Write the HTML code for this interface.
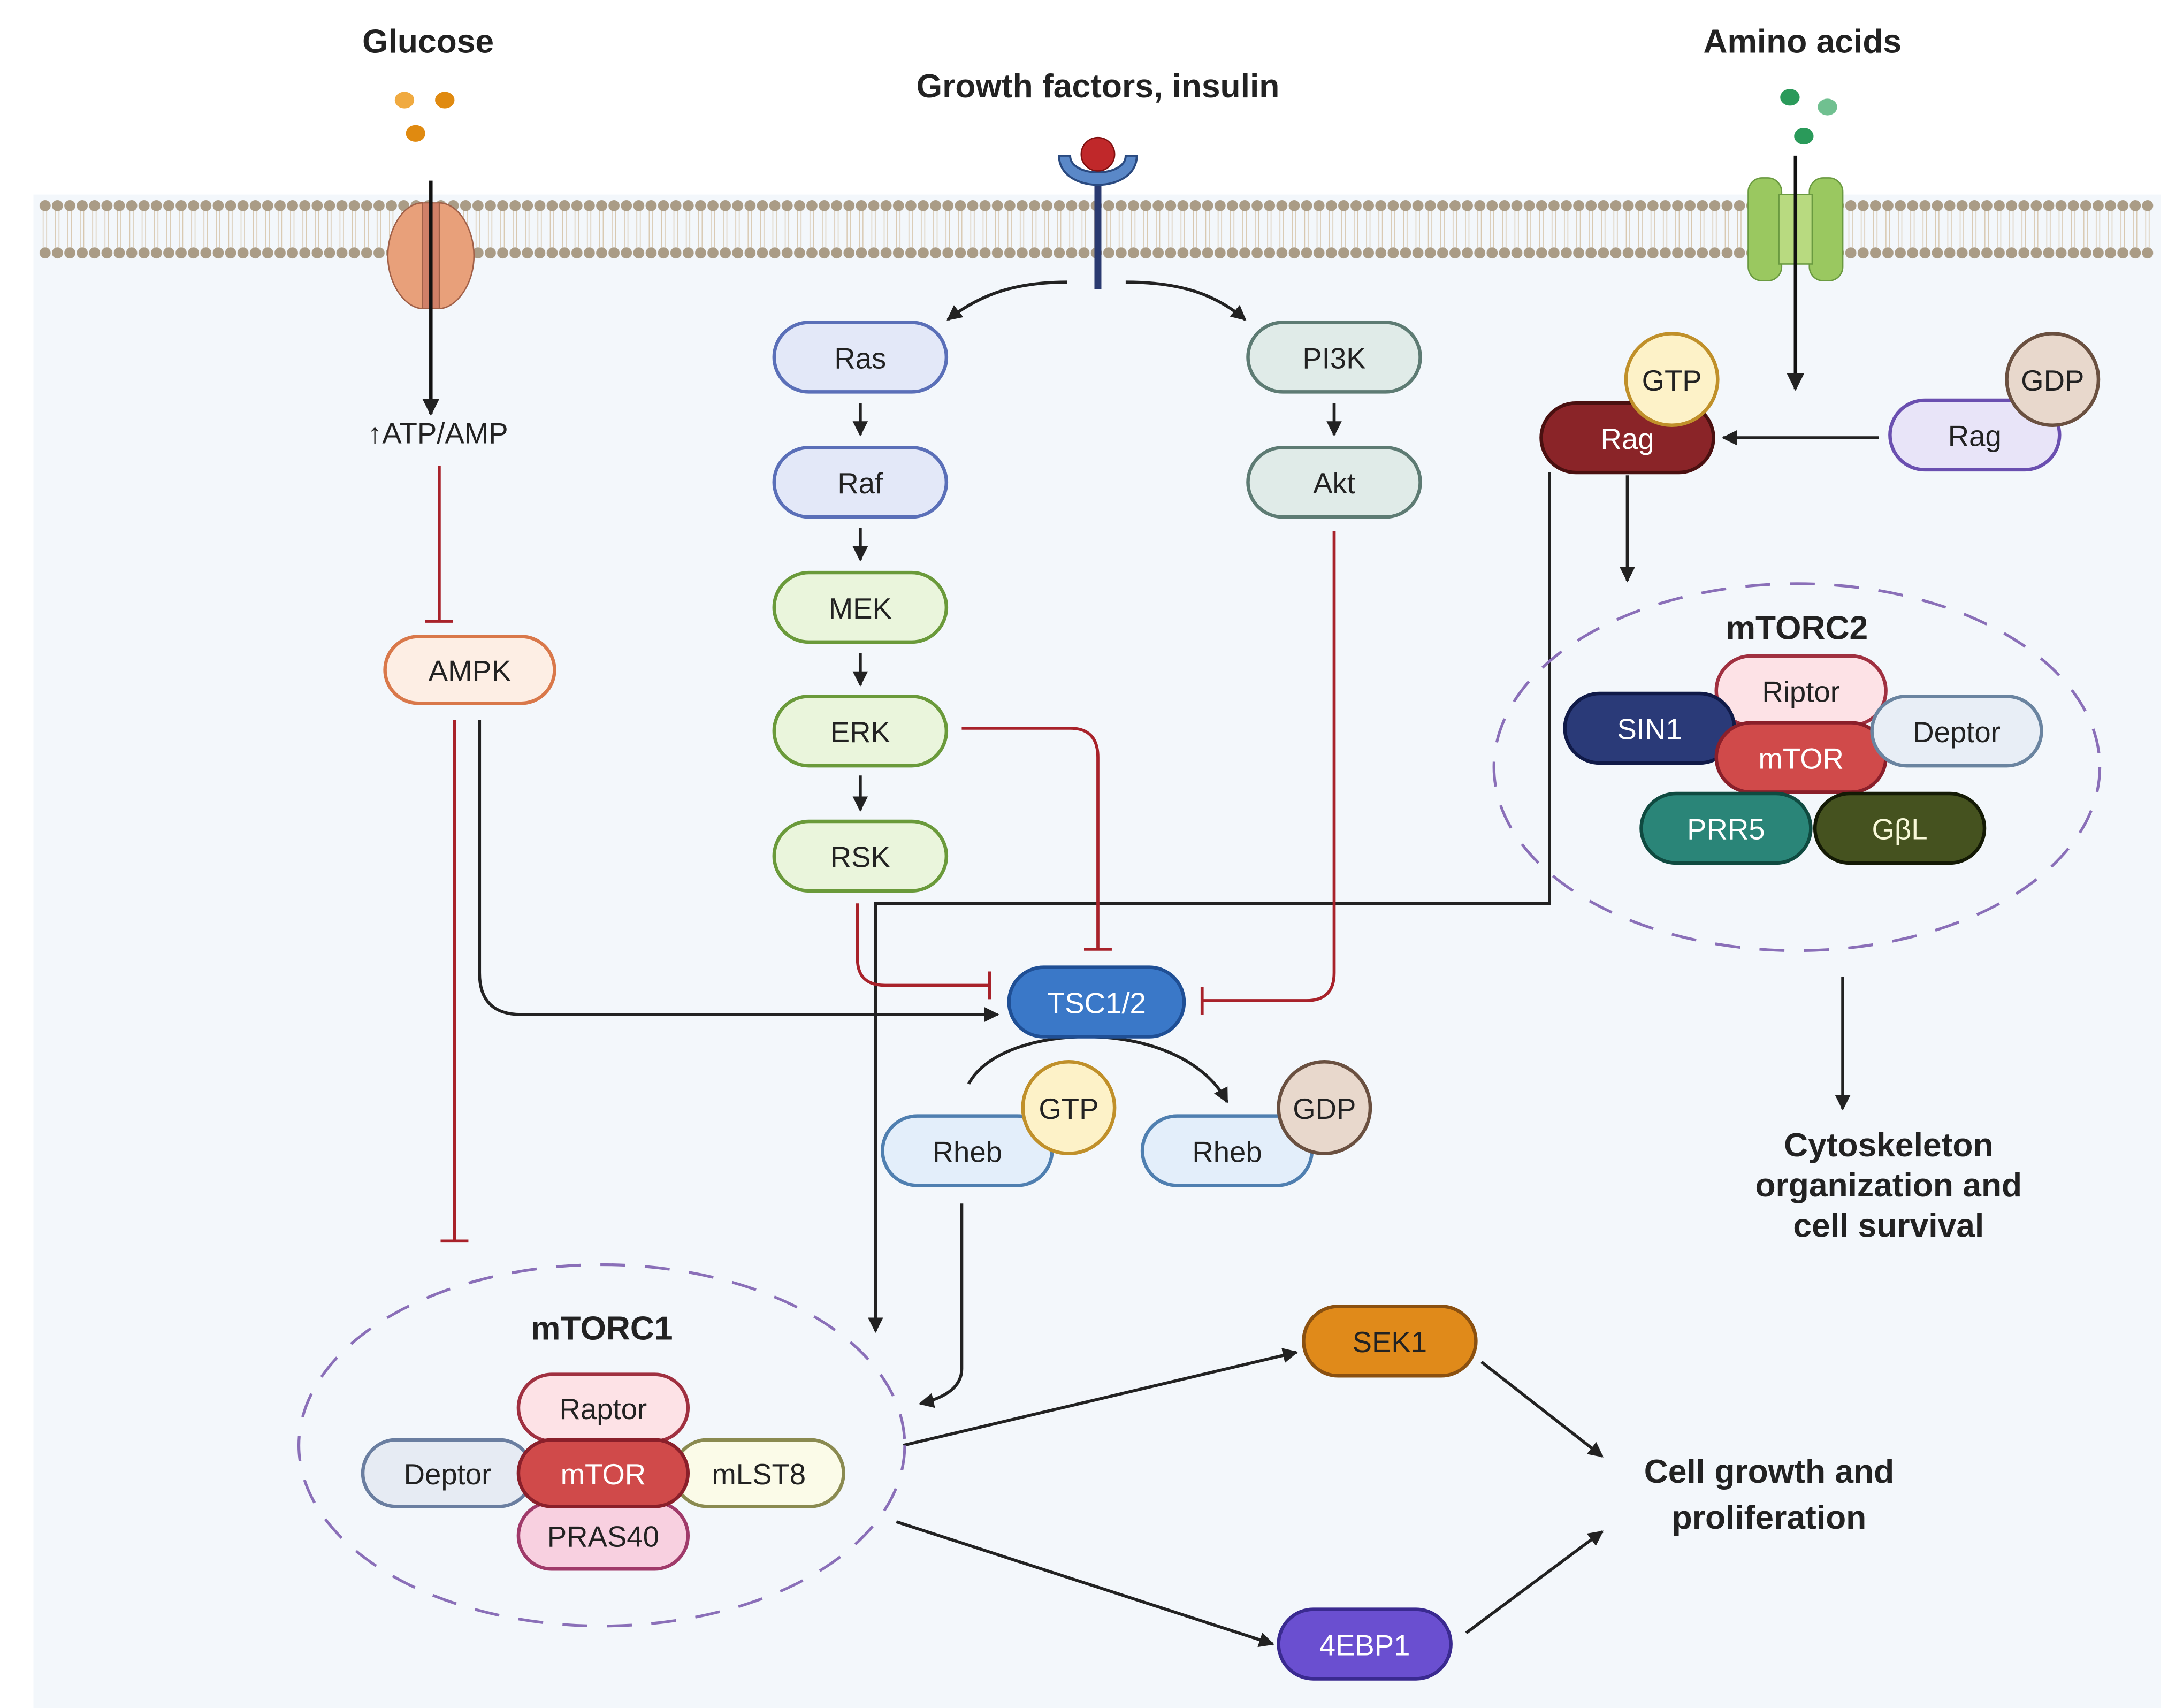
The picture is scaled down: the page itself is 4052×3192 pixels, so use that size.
<!DOCTYPE html>
<html><head><meta charset="utf-8"><style>
html,body{margin:0;padding:0;background:#fff;}
svg{display:block;}
text{font-family:"Liberation Sans",sans-serif;}
</style></head><body>
<svg width="4052" height="3192" viewBox="0 0 1560 1229" xmlns="http://www.w3.org/2000/svg">
<defs>
<pattern id="mem" x="28" y="140" width="8.9" height="50" patternUnits="userSpaceOnUse">
<line x1="3" y1="149" x2="3" y2="181" stroke="#d8c8b0" stroke-width="0.6" transform="translate(0,-140)"/>
<line x1="5.5" y1="9" x2="5.5" y2="41" stroke="#d8c8b0" stroke-width="0.6"/>
<circle cx="4.4" cy="8" r="4" fill="#aa9c86"/>
<circle cx="4.4" cy="42" r="4" fill="#aa9c86"/>
</pattern>
<marker id="ah" viewBox="0 0 10 10" refX="9" refY="5" markerWidth="5" markerHeight="5" orient="auto-start-reverse"><path d="M0,0 L10,5 L0,10 z" fill="#222"/></marker>
</defs>
<rect x="24" y="140" width="1531" height="1092" fill="#f3f7fb"/>
<rect x="28" y="140" width="1522" height="50" fill="url(#mem)"/>

<!-- Titles -->
<g font-weight="bold" font-size="24" fill="#222" text-anchor="middle">
<text x="308" y="38">Glucose</text>
<text x="790" y="70">Growth factors, insulin</text>
<text x="1297" y="38">Amino acids</text>
<text x="1293" y="460">mTORC2</text>
<text x="433" y="964">mTORC1</text>
<text x="1359" y="832">Cytoskeleton</text>
<text x="1359" y="861">organization and</text>
<text x="1359" y="890">cell survival</text>
<text x="1273" y="1067">Cell growth and</text>
<text x="1273" y="1100">proliferation</text>
</g>

<!-- glucose dots & transporter -->
<ellipse cx="291" cy="72" rx="7" ry="6" fill="#f0aa40"/>
<ellipse cx="320" cy="72" rx="7" ry="6" fill="#e08a10"/>
<ellipse cx="299" cy="96" rx="7" ry="6" fill="#e08a10"/>
<path d="M304,146 C290,146 279,165 279,184 C279,205 292,222 304,222 Z" fill="#e8a07a" stroke="#a06048" stroke-width="1"/>
<path d="M316,146 C330,146 341,165 341,184 C341,205 328,222 316,222 Z" fill="#e8a07a" stroke="#a06048" stroke-width="1"/>
<rect x="304" y="146" width="12" height="76" fill="#d08068" stroke="#a06048" stroke-width="0.8"/>
<line x1="310" y1="130" x2="310" y2="298" stroke="#111" stroke-width="2.5" marker-end="url(#ah)"/>
<text x="315" y="319" font-size="21" text-anchor="middle" fill="#222">↑ATP/AMP</text>

<!-- amino acids -->
<ellipse cx="1288" cy="70" rx="7" ry="6" fill="#2a9a5a"/>
<ellipse cx="1315" cy="77" rx="7" ry="6" fill="#70c090"/>
<ellipse cx="1298" cy="98" rx="7" ry="6" fill="#2a9a5a"/>
<rect x="1258" y="128" width="24" height="74" rx="10" fill="#9ac860" stroke="#6a9a40"/>
<rect x="1302" y="128" width="24" height="74" rx="10" fill="#9ac860" stroke="#6a9a40"/>
<rect x="1280" y="140" width="24" height="50" fill="#b8da80" stroke="#6a9a40"/>
<line x1="1292" y1="112" x2="1292" y2="280" stroke="#111" stroke-width="2.5" marker-end="url(#ah)"/>

<!-- receptor -->
<line x1="790" y1="130" x2="790" y2="208" stroke="#2a3a70" stroke-width="5"/>
<path d="M762,112 C762,140 818,140 818,112 L810,112 C810,128 770,128 770,112 Z" fill="#5a88c8" stroke="#2a4a80" stroke-width="1.5"/>
<circle cx="790" cy="111" r="12" fill="#c0282a" stroke="#801010"/>

<!-- connectors black -->
<g stroke="#222" stroke-width="2.2" fill="none">
<path d="M768,203 C730,203 705,212 682,230" marker-end="url(#ah)"/>
<path d="M810,203 C850,203 875,212 896,230" marker-end="url(#ah)"/>
<line x1="619" y1="290" x2="619" y2="313" marker-end="url(#ah)"/>
<line x1="619" y1="380" x2="619" y2="403" marker-end="url(#ah)"/>
<line x1="619" y1="470" x2="619" y2="493" marker-end="url(#ah)"/>
<line x1="619" y1="558" x2="619" y2="583" marker-end="url(#ah)"/>
<line x1="960" y1="290" x2="960" y2="313" marker-end="url(#ah)"/>
<path d="M345,518 L345,700 Q345,730 375,730 L718,730" marker-end="url(#ah)"/>
<path d="M697,780 C720,735 850,730 883,793" marker-end="url(#ah)"/>
<path d="M692,866 L692,985 Q692,1003 662,1010" marker-end="url(#ah)"/>
<path d="M1115,340 L1115,650 L630,650 L630,958" marker-end="url(#ah)"/>
<line x1="1352" y1="315" x2="1240" y2="315" marker-end="url(#ah)"/>
<line x1="1171" y1="342" x2="1171" y2="418" marker-end="url(#ah)"/>
<line x1="1326" y1="703" x2="1326" y2="798" marker-end="url(#ah)"/>
<line x1="650" y1="1040" x2="933" y2="973" marker-end="url(#ah)"/>
<line x1="645" y1="1095" x2="916" y2="1183" marker-end="url(#ah)"/>
<line x1="1066" y1="980" x2="1153" y2="1048" marker-end="url(#ah)"/>
<line x1="1055" y1="1175" x2="1153" y2="1102" marker-end="url(#ah)"/>
</g>
<!-- red inhibitory -->
<g stroke="#a8222a" stroke-width="2.2" fill="none">
<path d="M316,335 L316,447 M306,447 L326,447"/>
<path d="M327,518 L327,893 M317,893 L337,893"/>
<path d="M692,524 L770,524 Q790,524 790,545 L790,683 M780,683 L800,683"/>
<path d="M617,650 L617,690 Q617,709 637,709 L712,709 M712,699 L712,719"/>
<path d="M960,382 L960,700 Q960,720 940,720 L865,720 M865,710 L865,730"/>
</g>

<!-- dashed ellipses -->
<ellipse cx="1293" cy="552" rx="218" ry="132" fill="none" stroke="#8a6fb8" stroke-width="2" stroke-dasharray="18,14"/>
<ellipse cx="433" cy="1040" rx="218" ry="130" fill="none" stroke="#8a6fb8" stroke-width="2" stroke-dasharray="18,14"/>

<!-- pills -->
<g font-size="21" text-anchor="middle" stroke-width="2.5">
<g fill="#222">
<rect x="277" y="458" width="122" height="48" rx="24" fill="#fdeee4" stroke="#d9784a"/><text x="338" y="490" stroke="none" fill="#222">AMPK</text>
<rect x="557" y="232" width="124" height="50" rx="25" fill="#e3e8f8" stroke="#5a6fb8"/><text x="619" y="265" stroke="none" fill="#222">Ras</text>
<rect x="557" y="322" width="124" height="50" rx="25" fill="#e3e8f8" stroke="#5a6fb8"/><text x="619" y="355" stroke="none" fill="#222">Raf</text>
<rect x="557" y="412" width="124" height="50" rx="25" fill="#eaf5dc" stroke="#6a9a3a"/><text x="619" y="445" stroke="none" fill="#222">MEK</text>
<rect x="557" y="501" width="124" height="50" rx="25" fill="#eaf5dc" stroke="#6a9a3a"/><text x="619" y="534" stroke="none" fill="#222">ERK</text>
<rect x="557" y="591" width="124" height="50" rx="25" fill="#eaf5dc" stroke="#6a9a3a"/><text x="619" y="624" stroke="none" fill="#222">RSK</text>
<rect x="898" y="232" width="124" height="50" rx="25" fill="#e0ebe8" stroke="#5d7b73"/><text x="960" y="265" stroke="none" fill="#222">PI3K</text>
<rect x="898" y="322" width="124" height="50" rx="25" fill="#e0ebe8" stroke="#5d7b73"/><text x="960" y="355" stroke="none" fill="#222">Akt</text>
<rect x="726" y="696" width="126" height="50" rx="25" fill="#3a78c8" stroke="#1f4f95"/><text x="789" y="729" stroke="none" fill="#fff">TSC1/2</text>

<rect x="635" y="803" width="122" height="50" rx="25" fill="#e3eefa" stroke="#4f7fb0"/><text x="696" y="836" stroke="none" fill="#222">Rheb</text>
<circle cx="769" cy="797" r="33" fill="#fdf2c8" stroke="#c0902a"/><text x="769" y="805" stroke="none" fill="#222">GTP</text>
<rect x="822" y="803" width="122" height="50" rx="25" fill="#e3eefa" stroke="#4f7fb0"/><text x="883" y="836" stroke="none" fill="#222">Rheb</text>
<circle cx="953" cy="797" r="33" fill="#e8d8cc" stroke="#6a5040"/><text x="953" y="805" stroke="none" fill="#222">GDP</text>

<rect x="1109" y="290" width="124" height="50" rx="25" fill="#8a2428" stroke="#4a1010"/><text x="1171" y="323" stroke="none" fill="#fff">Rag</text>
<circle cx="1203" cy="273" r="33" fill="#fdf2c8" stroke="#c0902a"/><text x="1203" y="281" stroke="none" fill="#222">GTP</text>
<rect x="1360" y="288" width="122" height="50" rx="25" fill="#e8e4f8" stroke="#6a4fb0"/><text x="1421" y="321" stroke="none" fill="#222">Rag</text>
<circle cx="1477" cy="273" r="33" fill="#e8d8cc" stroke="#6a5040"/><text x="1477" y="281" stroke="none" fill="#222">GDP</text>

<rect x="1235" y="472" width="122" height="50" rx="25" fill="#fde2e6" stroke="#a03040"/><text x="1296" y="505" stroke="none" fill="#222">Riptor</text>
<rect x="1126" y="499" width="122" height="50" rx="25" fill="#2a3a78" stroke="#101a48"/><text x="1187" y="532" stroke="none" fill="#fff">SIN1</text>
<rect x="1235" y="520" width="122" height="50" rx="25" fill="#d04a4a" stroke="#8a1f2a"/><text x="1296" y="553" stroke="none" fill="#fff">mTOR</text>
<rect x="1347" y="501" width="122" height="50" rx="25" fill="#e8eef6" stroke="#6a84a0"/><text x="1408" y="534" stroke="none" fill="#222">Deptor</text>
<rect x="1181" y="571" width="122" height="50" rx="25" fill="#2a8578" stroke="#0f4a40"/><text x="1242" y="604" stroke="none" fill="#fff">PRR5</text>
<rect x="1306" y="571" width="122" height="50" rx="25" fill="#45521f" stroke="#141a05"/><text x="1367" y="604" stroke="none" fill="#f8f8d8">GβL</text>

<rect x="373" y="989" width="122" height="48" rx="24" fill="#fde2e6" stroke="#a03040"/><text x="434" y="1021" stroke="none" fill="#222">Raptor</text>
<rect x="373" y="1081" width="122" height="48" rx="24" fill="#f8d0e0" stroke="#a03a6a"/><text x="434" y="1113" stroke="none" fill="#222">PRAS40</text>
<rect x="261" y="1036" width="122" height="48" rx="24" fill="#e6ebf3" stroke="#6a7ea0"/><text x="322" y="1068" stroke="none" fill="#222">Deptor</text>
<rect x="485" y="1036" width="122" height="48" rx="24" fill="#fbfbe8" stroke="#8a8a50"/><text x="546" y="1068" stroke="none" fill="#222">mLST8</text>
<rect x="373" y="1036" width="122" height="48" rx="24" fill="#d04a4a" stroke="#8a1f2a"/><text x="434" y="1068" stroke="none" fill="#fff">mTOR</text>

<rect x="938" y="940" width="124" height="50" rx="25" fill="#e08a1a" stroke="#8a5010"/><text x="1000" y="973" stroke="none" fill="#222">SEK1</text>
<rect x="920" y="1158" width="124" height="50" rx="25" fill="#6a4fd0" stroke="#3a2a90"/><text x="982" y="1191" stroke="none" fill="#fff">4EBP1</text>
</g>
</g>
</svg>
</body></html>
